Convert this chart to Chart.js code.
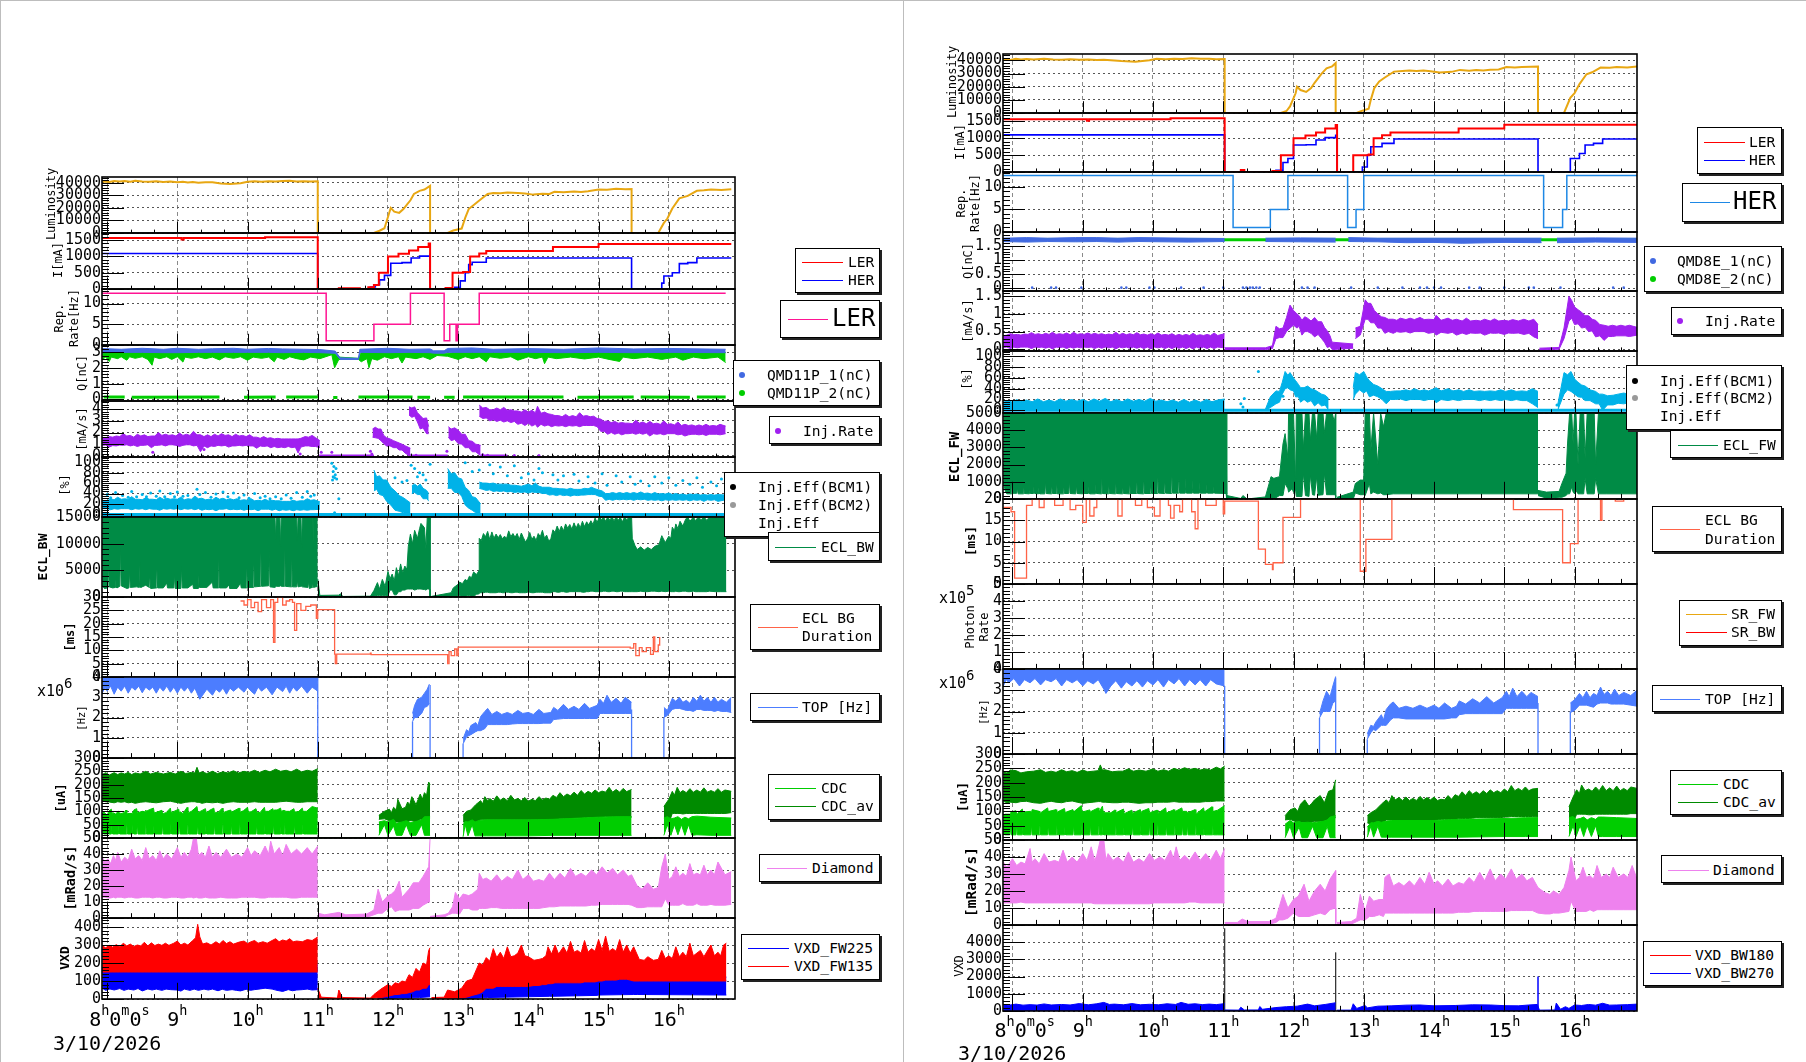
<!DOCTYPE html>
<html>
<head>
<meta charset="utf-8">
<title>3/10/2026</title>
<script src="https://cdn.jsdelivr.net/npm/chart.js@4"></script>
<style>
  html, body { margin: 0; padding: 0; background: #fff; width: 1806px; height: 1062px; overflow: hidden; }
  canvas { position: absolute; }
  .sep { position: absolute; background: #bdbdbd; }
  .legend { position: absolute; background: #fff; border: 1px solid #000; box-shadow: 2px 2px 0 #222; box-sizing: border-box; z-index: 5; }
  .legend span { position: absolute; white-space: pre; font-family: "DejaVu Sans Mono", monospace; font-size: 14.6px; color: #000; transform: translateY(-50%); }
  .legend i { position: absolute; display: block; }
</style>
</head>
<body>
<div class="sep" style="left:0;top:0;width:1px;height:1062px"></div>
<div class="sep" style="left:0;top:0;width:1806px;height:1px"></div>
<div class="sep" style="left:903px;top:0;width:1px;height:1062px"></div>
<script>
// values are hours on x. bands are [hour, low, high]
const hourLabels = [9, 10, 11, 12, 13, 14, 15, 16];
const dateLabel = '3/10/2026';

// ---------- left column (LER) ----------
const lumL = [[7.93,41000],[8.03,40600],[8.1,41400],[8.18,40900],[8.25,41300],[8.33,40800],[8.4,41500],[8.5,41000],[8.6,40700],[8.7,41100],[8.8,40600],[8.9,40900],[9,40400],[9.08,40700],[9.15,40200],[9.22,40500],[9.3,39900],[9.4,40300],[9.5,40400],[9.62,39400],[9.75,38900],[9.9,39600],[10,40700],[10.1,41200],[10.2,40800],[10.3,41200],[10.4,40900],[10.5,41300],[10.6,41500],[10.7,41000],[10.8,41200],[10.9,40900],[11,41100],[11,0],[11.8,0],[11.88,1800],[11.95,3800],[12,12700],[12.04,20000],[12.09,17000],[12.16,16000],[12.22,19000],[12.27,22500],[12.32,26000],[12.37,31000],[12.45,33500],[12.52,34500],[12.6,37500],[12.6,0],[12.85,0],[12.93,2000],[13.05,3500],[13.1,12000],[13.15,19000],[13.27,24500],[13.35,28000],[13.42,31000],[13.5,31800],[13.6,31500],[13.7,32200],[13.85,31800],[13.95,31300],[14.07,30500],[14.2,31200],[14.3,31000],[14.37,32700],[14.5,32300],[14.65,33000],[14.75,32600],[14.85,33200],[15,34500],[15.12,34300],[15.25,35100],[15.38,34700],[15.47,34900],[15.47,0],[15.85,0],[15.93,8000],[15.98,11500],[16.05,19500],[16.15,27500],[16.27,29500],[16.4,33500],[16.5,33900],[16.6,34500],[16.75,34200],[16.89,34800]];
const lerL = [[7.93,1565],[9.06,1520],[9.09,1565],[10.25,1590],[11,0],[11.3,20],[11.6,0],[11.72,50],[11.8,120],[11.87,500],[12,1000],[12.15,1080],[12.3,1180],[12.43,1290],[12.58,1400],[12.6,0],[12.82,30],[12.92,500],[13.07,520],[13.17,1000],[13.3,1090],[13.4,1170],[14.35,1290],[15,1385],[16.89,1385]];
const herL = [[7.93,1090],[11,0],[11.75,60],[11.82,130],[11.88,280],[11.95,420],[12.04,790],[12.2,810],[12.33,950],[12.45,1010],[12.6,1090],[12.6,0],[12.95,50],[13.03,250],[13.1,500],[13.15,750],[13.2,820],[13.4,950],[15.47,0],[15.85,0],[15.9,180],[15.93,400],[16.05,500],[16.15,780],[16.27,810],[16.4,950],[16.89,950]];
const repL = [[7.93,12.5],[11.12,1],[11.8,5],[12.32,12.5],[12.8,1],[12.88,5],[12.97,1],[12.99,5],[13.3,12.5],[16.81,12.5]];
const qBlueL = [[7.93,2.98,3.24],[8.2,3,3.2],[8.5,3,3.26],[8.8,2.98,3.2],[9,2.98,3.26],[9.3,3,3.2],[9.5,3,3.23],[9.8,3,3.26],[10,3,3.2],[10.3,3,3.25],[10.5,2.98,3.22],[10.8,3,3.2],[11.03,2.98,3.18],[11.25,2.94,3.08],[11.32,2.55,2.65],[11.58,2.55,2.62],[11.6,3,3.2],[12,2.98,3.26],[12.3,3,3.2],[12.6,2.98,3.22],[12.65,2.95,3.1],[12.8,2.95,3.1],[12.85,3,3.25],[13.2,3,3.28],[13.5,3,3.2],[14,3,3.24],[14.5,2.98,3.2],[15,3,3.28],[15.5,2.98,3.22],[16,3,3.25],[16.81,2.98,3.2]];
const qGreenL = [[7.93,2.55,3],[7.98,2.7,3],[8.03,2.42,3],[8.06,2.7,3],[8.15,2.6,3],[8.2,2.72,3],[8.28,2.5,3],[8.32,2.72,3.02],[8.4,2.62,3],[8.5,2.72,3],[8.58,2.55,3],[8.64,2.18,3],[8.67,2.7,3],[8.75,2.6,3.02],[8.85,2.72,3],[8.92,2.55,3],[9,2.72,3],[9.08,2.38,3],[9.11,2.7,3],[9.2,2.62,3],[9.3,2.72,3],[9.4,2.6,3.02],[9.5,2.7,3],[9.6,2.52,3],[9.68,2.72,3],[9.8,2.62,3],[9.9,2.72,3],[10,2.5,3.02],[10.08,2.7,3],[10.2,2.62,3],[10.3,2.7,3],[10.38,2.4,3],[10.42,2.7,3],[10.52,2.55,3],[10.6,2.72,3],[10.7,2.6,3],[10.8,2.52,3],[10.9,2.7,3],[11.03,2.6,3],[11.2,2.85,2.95],[11.24,2.02,2.95],[11.3,2.55,2.7],[11.58,2.55,2.62],[11.62,2.4,3],[11.7,2.6,3],[11.73,2.02,3],[11.77,2.6,3],[11.85,2.5,3],[11.95,2.72,3],[12.05,2.6,3],[12.15,2.72,3],[12.2,2.32,3],[12.25,2.7,3],[12.4,2.6,2.98],[12.5,2.72,3],[12.6,2.55,3],[12.7,2.8,2.95],[12.85,2.75,2.95],[13,2.55,3],[13.1,2.72,3],[13.2,2.6,3],[13.3,2.72,3],[13.4,2.4,3],[13.45,2.72,3],[13.6,2.62,3],[13.75,2.72,3],[13.85,2.5,3],[14,2.72,3],[14.1,2.6,3],[14.2,2.7,3],[14.23,2.28,3],[14.28,2.7,3],[14.4,2.6,3],[14.6,2.7,3],[14.8,2.58,3],[15,2.7,3],[15.15,2.55,3],[15.3,2.42,3],[15.35,2.7,3],[15.5,2.6,3],[15.7,2.7,3],[15.9,2.55,3],[16.1,2.7,3],[16.2,2.5,3],[16.35,2.7,3],[16.5,2.6,3],[16.7,2.7,3],[16.81,2.35,3]];
const qLowL = [[7.95,.15],[8.25,.15],[8.26,null],[8.35,.14],[9.6,.15],[9.65,null],[9.95,.14],[10.4,.15],[10.45,null],[10.55,.16],[11,.15],[11.02,null],[11.22,.12],[11.28,.12],[11.3,null],[11.58,.15],[12.35,.15],[12.4,null],[12.42,.14],[12.6,.14],[12.65,null],[12.8,.14],[12.95,.14],[13,null],[13.07,.15],[14.5,.15],[14.55,null],[14.7,.14],[15.5,.15],[15.55,null],[15.6,.15],[16.3,.14],[16.35,null],[16.4,.15],[16.81,.15]];
const rateMainL = [[7.93,.9,1.5],[7.98,.92,1.55],[8.03,.75,1.65],[8.08,.88,1.6],[8.13,.85,1.7],[8.18,.92,1.65],[8.23,.9,1.9],[8.28,.95,1.7],[8.33,.85,1.75],[8.38,.92,1.6],[8.43,.8,1.85],[8.48,.9,1.7],[8.53,.9,1.8],[8.58,.95,1.65],[8.63,.7,1.7],[8.68,.9,1.7],[8.73,.9,2],[8.78,.95,1.75],[8.83,.85,1.85],[8.88,.95,1.75],[8.93,.95,1.8],[8.98,.9,1.7],[9.03,.8,1.95],[9.08,.9,1.75],[9.13,.95,1.85],[9.18,.95,1.75],[9.23,.85,2.1],[9.28,.9,1.8],[9.33,.35,1.8],[9.38,.85,1.65],[9.43,.7,1.8],[9.48,.85,1.65],[9.53,.8,1.85],[9.58,.9,1.7],[9.63,.85,1.9],[9.68,.9,1.75],[9.73,.75,1.8],[9.78,.85,1.65],[9.83,.85,1.85],[9.88,.9,1.7],[9.93,.85,1.75],[9.98,.9,1.65],[10.03,.85,1.8],[10.08,.85,1.6],[10.13,.65,1.6],[10.18,.85,1.5],[10.23,.8,1.65],[10.28,.85,1.5],[10.33,.7,1.55],[10.38,.8,1.45],[10.43,.7,1.5],[10.48,.75,1.45],[10.53,.7,1.45],[10.58,.8,1.45],[10.63,.7,1.45],[10.68,.75,1.45],[10.72,.25,1.45],[10.76,.75,1.5],[10.82,.85,1.65],[10.87,.85,1.6],[10.92,.8,1.75],[10.97,.8,1.55],[11.03,.7,1.3]];
const rateUpL = [[11.78,1.6,2.3],[11.82,1.55,2.45],[11.86,1.5,2.3],[11.9,1.3,2.3],[11.94,1.05,1.75],[11.98,.85,1.55],[12.03,.85,1.45],[12.08,.7,1.3],[12.12,.7,1.2],[12.16,.5,1.1],[12.2,.5,1],[12.25,.2,.85],[12.32,0,.65]];
const rateUp2L = [[12.3,3.5,4.2],[12.34,3.3,4.1],[12.38,3.4,4.2],[12.42,2.9,3.7],[12.46,2.3,3.45],[12.5,2.4,3.2],[12.55,1.9,3.25],[12.58,1.9,2.5]];
const rateUp3L = [[12.86,1.6,2.5],[12.9,1.3,2.3],[12.95,1.4,2.4],[13,1.05,2.2],[13.05,1,1.85],[13.1,.7,1.85],[13.15,.7,1.3],[13.2,.35,1.25],[13.25,.35,1],[13.32,0,.9]];
const rateMain2L = [[13.3,3.4,4.35],[13.35,3.2,4.1],[13.4,3.25,4.15],[13.45,3,3.95],[13.5,3.1,3.95],[13.55,2.95,4.1],[13.6,3.05,3.95],[13.65,2.9,4.15],[13.7,3,3.9],[13.75,2.85,3.95],[13.8,2.95,3.85],[13.85,2.7,3.85],[13.9,2.8,3.75],[13.95,2.6,3.95],[14,2.8,3.75],[14.05,2.55,3.9],[14.1,2.7,3.7],[14.13,2.45,4.25],[14.18,2.7,3.65],[14.23,2.55,3.75],[14.28,2.65,3.6],[14.33,2.5,3.55],[14.38,2.6,3.45],[14.43,2.55,3.45],[14.48,2.6,3.35],[14.53,2.5,3.55],[14.58,2.6,3.35],[14.63,2.55,3.45],[14.68,2.6,3.35],[14.73,2.5,3.7],[14.78,2.6,3.4],[14.83,2.6,3.45],[14.88,2.6,3.35],[14.93,2.6,3.4],[14.98,2.5,3.2],[15.03,2.1,3.15],[15.08,2.1,2.95],[15.13,1.85,3],[15.18,2,2.85],[15.23,1.85,2.95],[15.28,1.95,2.8],[15.33,1.8,2.85],[15.38,1.9,2.8],[15.43,1.9,2.8],[15.48,1.95,2.75],[15.53,1.85,3.05],[15.58,1.95,2.8],[15.63,1.85,2.9],[15.68,1.95,2.75],[15.73,1.7,2.95],[15.78,1.9,2.75],[15.83,1.85,2.8],[15.88,1.9,2.7],[15.93,1.8,3],[15.98,1.9,2.7],[16.03,1.9,2.75],[16.08,1.9,2.65],[16.13,1.8,2.9],[16.18,1.85,2.6],[16.23,1.7,2.7],[16.28,1.8,2.6],[16.33,1.85,2.65],[16.38,1.85,2.55],[16.43,1.8,2.65],[16.48,1.85,2.55],[16.53,1.75,2.7],[16.58,1.85,2.55],[16.63,1.85,2.6],[16.68,1.85,2.55],[16.73,1.8,2.7],[16.81,1.9,2.55]];
const rateZeroL = [[11.02,-.02],[11.8,-.02],[11.8,null],[12.32,-.02],[12.85,-.02],[12.85,null],[13.32,-.02],[13.7,-.02]];
const rateDotsL = [[8.65,.3],[9.38,.55],[10.75,.15],[11.05,.3],[11.2,.3],[11.75,.4],[11.77,.15],[12.3,.1],[12.4,.05],[12.84,.4],[13.35,.1],[13.42,.05],[13.8,.02],[14.15,.02]];
const effMainL = [[7.93,11,27],[8,11,26],[8.05,9,30],[8.1,11,28],[8.15,10,33],[8.2,11,29],[8.25,11,30],[8.3,11,29],[8.35,9,34],[8.4,11,29],[8.45,10,29],[8.5,11,28],[8.55,9,32],[8.6,11,29],[8.65,10,29],[8.7,10,28],[8.75,8,33],[8.8,11,29],[8.85,10,31],[8.9,11,29],[8.95,10,30],[9,11,29],[9.05,9,33],[9.1,11,28],[9.15,10,30],[9.2,11,29],[9.25,9,35],[9.3,11,30],[9.35,8,31],[9.4,10,28],[9.45,9,29],[9.5,10,28],[9.55,7,33],[9.6,10,29],[9.65,10,31],[9.7,11,28],[9.75,9,30],[9.8,10,28],[9.85,9,30],[9.9,10,27],[9.95,8,28],[10,10,27],[10.05,9,30],[10.1,10,26],[10.15,7,27],[10.2,10,26],[10.25,10,29],[10.3,10,26],[10.35,8,27],[10.4,10,26],[10.45,7,26],[10.5,9,25],[10.55,8,25],[10.6,9,25],[10.65,7,27],[10.7,9,25],[10.75,8,26],[10.8,9,26],[10.85,8,30],[10.9,9,27],[10.95,9,28],[11.03,10,24]];
const effUp1L = [[11.8,45,85],[11.84,48,72],[11.88,38,74],[11.93,36,66],[11.98,25,66],[12.04,18,52],[12.1,8,45],[12.16,6,36],[12.22,3,32],[12.32,0,22]];
const effUp2L = [[12.85,50,88],[12.9,50,78],[12.95,42,80],[13,42,70],[13.05,35,68],[13.1,18,52],[13.15,12,46],[13.2,8,34],[13.25,3,32],[13.32,0,20]];
const effUp3L = [[12.34,40,55],[12.38,42,58],[12.42,38,54],[12.46,38,58],[12.5,30,50],[12.55,30,46],[12.58,26,40]];
const effMain2L = [[13.3,50,62],[13.35,48,60],[13.4,46,60],[13.45,47,59],[13.5,44,60],[13.55,45,58],[13.6,44,58],[13.65,45,58],[13.7,43,58],[13.75,44,56],[13.8,42,56],[13.85,43,55],[13.9,42,54],[13.95,43,56],[14,41,58],[14.05,43,55],[14.1,42,60],[14.15,42,54],[14.2,40,52],[14.25,40,52],[14.3,37,52],[14.35,38,50],[14.4,36,50],[14.45,38,49],[14.5,36,49],[14.55,37,48],[14.6,35,50],[14.65,37,48],[14.7,36,48],[14.75,37,48],[14.8,37,50],[14.85,38,49],[14.9,38,52],[14.95,38,49],[15,35,47],[15.05,34,45],[15.1,27,40],[15.15,29,40],[15.2,27,42],[15.25,29,40],[15.3,28,42],[15.35,29,40],[15.4,28,42],[15.45,29,40],[15.5,27,42],[15.55,29,40],[15.6,28,43],[15.65,29,40],[15.7,27,41],[15.75,28,39],[15.8,27,42],[15.85,28,39],[15.9,26,40],[15.95,28,39],[16,27,41],[16.05,28,38],[16.1,27,40],[16.15,28,38],[16.2,27,39],[16.25,28,37],[16.3,26,39],[16.35,28,38],[16.4,27,39],[16.45,28,37],[16.5,25,38],[16.55,28,37],[16.6,27,38],[16.65,28,37],[16.7,25,38],[16.81,28,37]];
const effSparseL = [[8,38],[8.05,32],[8.12,42],[8.22,36],[8.3,33],[8.35,44],[8.42,34],[8.5,38],[8.56,34],[8.62,41],[8.7,35],[8.75,45],[8.82,34],[8.9,40],[8.96,34],[9,43],[9.08,35],[9.15,36],[9.28,48],[9.32,38],[9.4,42],[9.48,33],[9.55,39],[9.65,43],[9.72,34],[9.8,41],[9.88,32],[9.95,37],[10.02,31],[10.1,40],[10.18,32],[10.25,35],[10.32,30],[10.4,34],[10.48,30],[10.55,37],[10.62,31],[10.7,42],[10.78,33],[10.85,44],[10.9,35],[10.95,37],[11.2,98],[11.22,82],[11.24,70],[11.26,88],[11.21,66],[11.25,76],[11.23,92],[11.22,72],[11.27,68],[11.24,3],[11.3,30],[12.33,94],[12.38,88],[12.42,72],[12.45,80],[12.5,76],[12.54,66],[12.6,96],[12.1,70],[12.2,62],[12.27,65],[13.1,99],[13.2,82],[13.3,85],[13.45,95],[13.5,78],[13.6,91],[13.7,74],[13.8,93],[13.9,70],[14,78],[14.08,66],[14.15,88],[14.2,80],[14.35,76],[14.42,66],[14.5,74],[14.65,77],[14.72,64],[14.85,72],[14.95,60],[15.05,78],[15.12,56],[15.25,74],[15.33,62],[15.45,72],[15.52,58],[15.6,64],[15.72,55],[15.8,72],[15.9,60],[16,70],[16.1,56],[16.2,65],[16.3,58],[16.4,70],[16.48,52],[16.6,62],[16.68,55],[16.75,68]];
const effZeroL = [[7.93,0],[16.85,0]];
const eclBwAL = [[7.93,2200,15000],[7.96,1600,15000],[8.01,1700,15000],[8.02,6400,15000],[8.03,1900,15000],[8.08,1700,15000],[8.12,1800,15000],[8.13,4000,15000],[8.14,1700,15000],[8.18,2000,15000],[8.19,9800,15000],[8.2,2100,15000],[8.28,1600,15000],[8.31,1700,15000],[8.32,5000,15000],[8.33,1800,15000],[8.42,1900,15000],[8.46,1800,15000],[8.47,6800,15000],[8.48,1800,15000],[8.55,2200,15000],[8.6,1800,15000],[8.61,3600,15000],[8.62,1600,15000],[8.7,1700,15000],[8.71,5200,15000],[8.72,1700,15000],[8.8,1700,15000],[8.85,2600,15000],[8.86,1700,15000],[8.95,1700,15000],[8.96,4300,15000],[8.97,1600,15000],[9.05,1600,15000],[9.06,5800,15000],[9.07,1700,15000],[9.15,1700,15000],[9.22,2400,15000],[9.23,1600,15000],[9.3,1600,15000],[9.31,4500,15000],[9.32,1800,15000],[9.42,1800,15000],[9.5,2800,15000],[9.51,1700,15000],[9.58,1700,15000],[9.59,7200,15000],[9.6,1700,15000],[9.7,1700,15000],[9.74,2300,15000],[9.75,1600,15000],[9.85,1600,15000],[9.9,2600,15000],[9.91,1700,15000],[9.98,1700,15000],[9.99,5400,15000],[10,1800,15000],[10.08,1800,15000],[10.09,6200,15000],[10.1,1900,15000],[10.18,2000,15000],[10.19,8400,14800],[10.2,2000,15000],[10.3,2100,15000],[10.31,8800,15000],[10.32,1900,15000],[10.39,1800,15000],[10.4,1900,10800],[10.41,2000,15000],[10.46,2000,15000],[10.47,2100,9400],[10.48,2000,15000],[10.52,2000,15000],[10.53,9000,15000],[10.54,2000,15000],[10.62,1900,15000],[10.63,7200,15000],[10.64,1900,15000],[10.7,1900,15000],[10.71,3200,10400],[10.72,1900,15000],[10.76,2000,15000],[10.77,2000,9200],[10.78,1900,15000],[10.86,1800,15000],[10.87,3000,15000],[10.88,1600,15000],[10.92,1800,15000],[10.93,2400,8500],[10.94,1800,15000],[11,2000,15000]];
const eclBwBL = [[11,0,3400],[11.03,0,300],[11.3,0,350],[11.32,0,600],[11.36,0,100],[11.75,0,150],[11.8,200,1200],[11.85,300,2700],[11.88,300,1500],[11.92,300,3300],[11.96,300,2000],[12,300,4800],[12.03,1300,3400],[12.06,1300,4300],[12.09,400,3000],[12.12,400,5500],[12.15,1000,4000],[12.18,1000,6200],[12.21,1300,4500],[12.24,1300,5800],[12.27,1500,5200],[12.29,1500,9500],[12.32,1500,11800],[12.35,1500,10000],[12.38,1300,12500],[12.42,1500,11000],[12.45,1500,12800],[12.47,1500,13800],[12.52,1400,13000],[12.54,1300,9000],[12.56,1500,15000],[12.6,1500,15000],[12.6,0,200]];
const eclBwCL = [[12.62,0,120],[12.9,0,800],[12.93,0,1700],[12.96,0,2000],[13,300,2400],[13.02,300,2800],[13.06,100,2500],[13.1,100,3300],[13.13,300,3000],[13.16,300,3900],[13.19,100,3600],[13.22,100,4700],[13.26,500,4200],[13.3,600,5000],[13.3,800,11000],[13.33,800,10600],[13.36,800,11900],[13.39,900,11300],[13.42,900,12300],[13.45,800,10800],[13.48,800,12200],[13.51,800,11000],[13.54,800,11800],[13.57,900,11100],[13.6,900,11700],[13.63,800,10900],[13.66,800,11400],[13.69,900,11000],[13.72,900,12400],[13.75,800,11300],[13.78,800,11900],[13.81,900,11200],[13.84,900,11900],[13.87,800,10800],[13.9,800,12000],[13.93,800,11100],[13.96,800,10300],[13.99,900,11000],[14.02,900,12100],[14.05,800,10800],[14.08,800,11400],[14.11,900,10600],[14.14,900,11900],[14.17,900,11300],[14.2,900,12500],[14.23,800,11000],[14.26,800,11600],[14.29,800,10500],[14.32,800,10900],[14.35,1000,12600],[14.38,1000,12100],[14.41,900,13300],[14.44,900,12300],[14.47,1000,13300],[14.5,1000,12400],[14.53,900,13700],[14.56,900,12900],[14.59,1000,13600],[14.62,1000,12700],[14.65,1000,13900],[14.68,1000,12900],[14.71,1000,13800],[14.74,1000,13000],[14.77,900,14200],[14.8,900,13200],[14.83,1000,14100],[14.86,1000,13500],[14.89,1100,14300],[14.92,1100,13600],[14.95,1000,14800],[14.98,1000,14000],[15.01,1000,15000],[15.04,1000,14500],[15.07,1100,15000],[15.1,1100,14200],[15.13,1000,15000],[15.16,1000,14400],[15.19,1100,15000],[15.22,1100,14300],[15.25,1000,15000],[15.28,1000,14400],[15.31,1100,14900],[15.34,1100,14100],[15.37,1000,15000],[15.4,1000,14500],[15.44,1000,15000],[15.47,1000,15000],[15.48,1000,11000],[15.52,1000,9600],[15.55,1000,8900],[15.6,1100,9400],[15.65,1000,8800],[15.7,1000,9300],[15.75,1100,8900],[15.8,1100,9500],[15.86,1000,9800],[15.9,1100,11500],[15.95,1000,10200],[16,1100,11400],[16.03,1000,11000],[16.05,1000,13100],[16.08,1000,12400],[16.1,1100,13700],[16.13,1000,12800],[16.16,1000,14200],[16.2,1100,13300],[16.24,1100,14600],[16.27,1000,15000],[16.3,1000,14200],[16.35,1100,15000],[16.38,1000,14300],[16.42,1000,15000],[16.46,1000,14500],[16.5,1000,15000],[16.54,1000,14400],[16.58,1100,15000],[16.66,1000,14800],[16.74,1000,15000],[16.82,1000,15000]];
const ecldurL = [[9.9,28.5],[9.95,27],[10,29],[10.05,26],[10.1,28],[10.15,24.5],[10.2,29],[10.27,26],[10.33,29],[10.37,13],[10.39,28],[10.43,30],[10.5,27],[10.55,28.5],[10.6,29],[10.64,28],[10.67,17.5],[10.7,27.5],[10.76,25],[10.83,26.5],[10.9,27],[10.98,22],[11,25.3],[11.24,8.6],[11.25,5],[11.27,8.6],[11.75,8.9],[11.76,8.4],[12.85,5],[12.87,9.5],[12.9,8],[12.95,10.5],[12.98,8],[13,11.2],[15.45,10.8],[15.5,12.5],[15.53,8],[15.58,11],[15.62,9.5],[15.68,11],[15.74,8.5],[15.78,15],[15.8,9.5],[15.85,12],[15.87,15],[15.87,15]];
const topAL = [[7.93,3.2,4],[7.97,3.5,4],[8,3.3,4],[8.05,3.55,4],[8.1,3.15,4],[8.15,3.5,4],[8.2,3.3,4],[8.25,3.55,4],[8.3,3.2,4],[8.35,3.5,4],[8.4,3.35,4],[8.45,3.55,4],[8.5,3.22,4],[8.55,3.5,4],[8.6,3.35,4],[8.65,3.5,4],[8.7,3.2,4],[8.75,3.5,4],[8.8,3.3,4],[8.85,3.55,4],[8.9,3.25,4],[8.95,3.5,4],[9,3.2,4],[9.05,3.5,4],[9.1,3.3,4],[9.15,3.5,4],[9.2,3.2,4],[9.25,3.45,4],[9.32,2.9,4],[9.36,3.1,4],[9.42,3.4,4],[9.5,3.1,4],[9.55,3.4,4],[9.6,3.25,4],[9.65,3.45,4],[9.7,3.15,4],[9.75,3.45,4],[9.8,3.3,4],[9.87,3.5,4],[9.95,3.25,4],[10,3.5,4],[10.05,3.3,4],[10.1,3.15,4],[10.15,3.5,4],[10.2,3.3,4],[10.27,3.5,4],[10.35,3.12,4],[10.42,3.5,4],[10.5,3.28,4],[10.55,3.55,4],[10.6,3.2,4],[10.65,3.5,4],[10.7,3.3,4],[10.77,3.55,4],[10.85,3.2,4],[10.92,3.5,4],[11,3.3,4]];
const topBL = [[12.35,1.8,2.2],[12.38,2,2.6],[12.42,2,2.9],[12.48,2.2,3.0],[12.52,2.5,3.2],[12.56,2.55,3.4],[12.59,2.7,3.65]];
const topCL = [[13.07,.7,.95],[13.12,1.05,1.4],[13.15,1.1,1.3],[13.18,1.15,1.6],[13.25,1.3,1.75],[13.28,1.35,1.6],[13.32,1.35,2.05],[13.38,1.45,2.3],[13.42,1.65,2.45],[13.48,1.65,2.15],[13.55,1.65,2.3],[13.62,1.65,2.15],[13.7,1.65,2.25],[13.77,1.68,2.15],[13.85,1.7,2.35],[13.92,1.7,2.2],[14,1.7,2.25],[14.07,1.7,2.15],[14.15,1.7,2.4],[14.22,1.72,2.2],[14.32,1.72,2.25],[14.36,1.9,2.5],[14.42,1.92,2.35],[14.5,1.95,2.65],[14.57,1.95,2.4],[14.65,1.95,2.55],[14.72,1.95,2.4],[14.8,1.95,2.7],[14.87,1.95,2.45],[14.98,1.95,2.6],[15.02,2.2,2.9],[15.07,2.2,2.7],[15.12,2.2,3.1],[15.18,2.2,2.75],[15.25,2.2,2.95],[15.32,2.2,2.7],[15.38,2.2,3],[15.47,2.2,2.75]];
const topDL = [[15.93,2,2.5],[15.98,2.1,2.35],[16.05,2.4,2.95],[16.1,2.45,2.8],[16.15,2.45,3],[16.2,2.4,2.75],[16.25,2.35,2.85],[16.3,2.35,2.7],[16.35,2.3,3],[16.4,2.4,2.8],[16.45,2.4,3.1],[16.5,2.35,2.8],[16.55,2.35,3],[16.6,2.35,2.75],[16.65,2.3,3],[16.7,2.35,2.75],[16.75,2.3,2.9],[16.82,2.3,2.75],[16.89,2.25,3]];
const topZeroL = [[11,4],[11,0],[12.35,0],[12.35,1.8],[12.35,null],[12.6,3.6],[12.6,0],[13.07,0],[13.07,.7],[13.07,null],[15.47,2.4],[15.47,0],[15.93,0],[15.93,2]];
const cdcAvAL = [[7.93,140,238],[7.98,136,245],[8.03,135,236],[8.1,132,245],[8.15,136,238],[8.2,134,244],[8.25,136,240],[8.3,132,246],[8.35,134,238],[8.4,130,244],[8.47,134,240],[8.55,136,250],[8.62,134,240],[8.7,132,246],[8.8,136,240],[8.9,138,246],[8.97,134,240],[9.05,130,250],[9.12,134,242],[9.2,136,246],[9.25,136,244],[9.28,134,265],[9.31,134,244],[9.35,130,248],[9.42,134,242],[9.5,132,250],[9.57,134,242],[9.65,130,248],[9.72,134,244],[9.8,136,252],[9.87,134,244],[9.95,134,250],[10.02,134,246],[10.1,136,254],[10.17,134,246],[10.25,134,254],[10.32,134,248],[10.4,134,258],[10.47,136,250],[10.55,138,254],[10.62,136,248],[10.7,134,258],[10.77,134,248],[10.85,136,254],[10.92,136,250],[11,136,260]];
const cdcAL = [[7.93,15,92],[7.94,55,90],[7.95,15,98],[8,15,85],[8.01,55,90],[8.02,15,100],[8.06,15,108],[8.07,55,92],[8.08,15,95],[8.12,15,90],[8.16,15,100],[8.17,55,95],[8.18,15,90],[8.24,15,95],[8.27,15,105],[8.28,55,95],[8.29,15,92],[8.36,15,92],[8.37,55,100],[8.38,15,105],[8.42,15,110],[8.43,55,96],[8.44,15,95],[8.5,15,100],[8.54,15,98],[8.55,55,105],[8.56,15,100],[8.6,15,106],[8.66,15,112],[8.67,55,96],[8.68,15,95],[8.72,15,98],[8.78,15,104],[8.79,55,95],[8.8,15,92],[8.84,15,95],[8.9,15,112],[8.91,55,98],[8.92,15,96],[9.02,15,108],[9.03,55,92],[9.04,15,98],[9.08,15,92],[9.14,15,115],[9.15,55,98],[9.16,15,95],[9.2,15,100],[9.28,15,118],[9.29,55,100],[9.3,15,96],[9.4,15,110],[9.41,55,98],[9.42,15,95],[9.46,15,104],[9.52,15,112],[9.53,55,95],[9.54,15,96],[9.58,15,96],[9.64,15,112],[9.65,55,100],[9.66,15,96],[9.7,15,100],[9.76,15,105],[9.77,55,98],[9.78,15,98],[9.88,15,112],[9.89,55,100],[9.9,15,98],[9.94,15,102],[10,15,115],[10.01,55,100],[10.02,15,96],[10.06,15,100],[10.12,15,110],[10.13,55,100],[10.14,15,96],[10.18,15,96],[10.24,15,115],[10.25,55,100],[10.26,15,100],[10.3,15,100],[10.36,15,110],[10.37,55,100],[10.38,15,105],[10.42,15,105],[10.47,15,112],[10.48,55,100],[10.49,15,100],[10.52,15,104],[10.53,55,100],[10.54,15,100],[10.6,15,100],[10.66,15,110],[10.67,55,98],[10.68,15,98],[10.72,15,98],[10.78,15,112],[10.79,55,100],[10.8,15,100],[10.84,15,100],[10.92,15,118],[11,15,112]];
const cdcAvBL = [[11.87,70,85],[11.95,72,100],[12.02,65,108],[12.05,62,95],[12.08,60,115],[12.12,60,105],[12.14,60,145],[12.2,58,110],[12.25,60,115],[12.28,60,135],[12.31,65,125],[12.34,65,155],[12.4,60,125],[12.43,65,145],[12.46,70,165],[12.49,70,145],[12.52,70,170],[12.55,72,160],[12.58,75,210],[12.6,75,200]];
const cdcBL = [[11.87,10,60],[11.95,50,65],[12,10,60],[12.08,45,70],[12.12,10,55],[12.2,10,60],[12.26,50,65],[12.32,10,58],[12.4,10,62],[12.48,50,68],[12.52,10,80],[12.6,10,80]];
const cdcAvCL = [[13.07,60,85],[13.12,60,100],[13.18,50,105],[13.25,50,125],[13.32,68,140],[13.35,68,128],[13.38,68,155],[13.42,68,140],[13.45,68,148],[13.5,68,138],[13.55,68,158],[13.6,68,142],[13.65,68,150],[13.7,68,140],[13.75,68,160],[13.8,68,143],[13.85,68,148],[13.9,68,140],[13.95,68,152],[14,68,138],[14.05,68,145],[14.1,68,140],[14.15,70,155],[14.2,70,143],[14.25,70,150],[14.3,70,145],[14.35,70,160],[14.4,70,152],[14.45,72,170],[14.5,72,155],[14.55,72,165],[14.6,74,158],[14.65,75,172],[14.7,75,160],[14.75,75,178],[14.8,76,165],[14.85,78,175],[14.9,78,168],[14.95,78,180],[15,78,170],[15.05,78,176],[15.1,80,172],[15.15,80,190],[15.2,80,172],[15.25,80,182],[15.3,80,172],[15.35,80,186],[15.4,80,174],[15.47,78,182]];
const cdcCL = [[13.07,5,50],[13.1,50,62],[13.14,8,60],[13.2,50,68],[13.24,8,60],[13.3,8,66],[13.4,8,68],[14,8,68],[14.35,10,70],[15,10,78],[15.3,10,80],[15.47,10,80]];
const cdcAvDL = [[15.93,55,118],[16,55,145],[16.05,92,175],[16.08,92,160],[16.12,92,190],[16.16,92,170],[16.2,90,178],[16.25,92,170],[16.3,92,185],[16.35,92,172],[16.4,92,180],[16.45,92,172],[16.5,92,188],[16.55,92,172],[16.6,92,178],[16.65,92,172],[16.7,92,185],[16.75,92,172],[16.8,92,180],[16.89,95,175]];
const cdcDL = [[15.93,10,75],[15.98,50,80],[16.03,10,72],[16.08,50,75],[16.13,12,80],[16.18,50,70],[16.23,10,78],[16.28,50,72],[16.33,10,80],[16.4,12,82],[16.6,10,78],[16.89,10,75]];
const cdcZeroL = [[11,0],[11.87,0],[11.87,null],[12.6,0],[13.07,0],[13.07,null],[15.47,0],[15.93,0]];
const diaAL = [[7.93,13,38],[7.97,13,35],[8.01,12.5,37],[8.05,12.5,34],[8.09,13,39],[8.12,12.5,36],[8.15,13,41],[8.2,13,35],[8.25,12.5,38],[8.3,13,36],[8.35,13,43],[8.4,12.5,37],[8.45,12.5,39],[8.5,13,36],[8.55,13,44],[8.6,13,37],[8.65,12.5,39],[8.7,13,36],[8.75,13,42],[8.8,12.5,37],[8.85,12.5,40],[8.92,13,37],[9,13,44],[9.05,12.5,38],[9.1,12.5,41],[9.15,13,38],[9.2,13,43],[9.23,12.5,50],[9.27,13,50],[9.3,12.5,39],[9.35,12.5,41],[9.4,13,38],[9.45,12.5,45],[9.5,12.5,38],[9.55,12.5,41],[9.62,13,38],[9.7,12.5,43],[9.77,12.5,38],[9.85,12.5,40],[9.92,13,38],[10,13,44],[10.05,13,39],[10.1,13,42],[10.18,12.5,39],[10.25,12.5,45],[10.3,13,40],[10.33,13,48],[10.38,13,40],[10.45,13,44],[10.5,13,39],[10.55,13,46],[10.62,12.5,40],[10.7,12.5,43],[10.77,13,40],[10.85,13,44],[10.92,13,40],[11,13,45]];
const diaBL = [[11,0,3],[11.1,0,2],[11.3,.5,3.5],[11.4,.5,2],[11.7,.5,2.5],[11.8,2,5],[11.86,3,18],[11.92,3,10],[12,6,14],[12.05,7,15],[12.1,4,17],[12.16,5,23],[12.2,5,13],[12.3,5,18],[12.36,6,22],[12.44,6,22],[12.5,8,26],[12.58,10,32],[12.6,10,50]];
const diaCL = [[12.6,0,1],[12.8,.5,2],[12.86,2,3],[12.92,3,7],[12.96,3,16],[13.02,2.5,12],[13.07,6,15],[13.15,6,14],[13.2,5,15],[13.28,5,18],[13.3,6,28],[13.35,6,24],[13.4,6,25],[13.47,6.5,23],[13.55,6.5,27],[13.62,6,23],[13.7,6,26],[13.77,6,24],[13.85,6,30],[13.92,6,24],[14,6,27],[14.07,6,23],[14.15,6,24],[14.22,6.5,23],[14.3,7,28],[14.37,7,24],[14.45,7.5,28],[14.52,7.5,25],[14.6,7.5,31],[14.67,7.5,26],[14.75,7.5,28],[14.82,7.5,26],[14.9,8,30],[14.97,8,27],[15.05,8.5,32],[15.12,8.5,28],[15.2,8.5,31],[15.27,8.5,27],[15.35,8.5,30],[15.42,8.5,26],[15.47,8,27],[15.55,6.5,20],[15.62,6.5,18],[15.7,7,22],[15.78,7,18],[15.85,7,19],[15.9,7,32],[15.95,12,40],[16,8,24],[16.05,8,26],[16.1,8,32],[16.15,8,26],[16.2,9,28],[16.25,8,26],[16.3,8,34],[16.35,8,27],[16.4,9,28],[16.45,8,27],[16.5,8,33],[16.55,8,27],[16.6,8.5,30],[16.65,8,27],[16.7,8,35],[16.8,8,27],[16.89,8.5,29]];
const vxdRedAL = [[7.93,150,295],[7.98,150,285],[8.03,150,298],[8.08,150,288],[8.13,150,302],[8.18,150,290],[8.23,150,310],[8.28,150,295],[8.33,150,305],[8.38,150,292],[8.43,150,300],[8.48,150,295],[8.53,150,315],[8.58,150,295],[8.63,150,312],[8.68,150,297],[8.73,150,305],[8.78,150,298],[8.83,150,310],[8.88,150,298],[8.95,150,310],[9,150,322],[9.05,150,300],[9.1,150,310],[9.15,150,300],[9.22,150,325],[9.26,150,340],[9.29,150,415],[9.32,150,345],[9.36,150,305],[9.42,150,312],[9.48,150,300],[9.55,150,318],[9.6,150,305],[9.65,150,325],[9.7,150,308],[9.75,150,318],[9.8,150,305],[9.88,150,316],[9.95,150,322],[10,150,308],[10.05,150,318],[10.1,150,325],[10.15,150,310],[10.22,150,318],[10.28,150,310],[10.35,150,325],[10.4,150,335],[10.45,150,318],[10.5,150,328],[10.55,150,322],[10.6,150,335],[10.65,150,318],[10.7,150,322],[10.78,150,318],[10.85,150,330],[10.92,150,325],[11,150,345]];
const vxdBlueAL = [[7.93,60,172],[7.98,48,172],[8.04,56,172],[8.1,50,172],[8.18,58,172],[8.24,48,172],[8.3,55,174],[8.38,50,174],[8.44,58,174],[8.5,45,174],[8.58,56,174],[8.64,50,172],[8.7,55,172],[8.78,48,174],[8.84,55,172],[8.9,52,173],[9,50,174],[9.05,44,168],[9.1,55,174],[9.18,48,174],[9.24,55,174],[9.3,48,174],[9.38,55,174],[9.44,50,174],[9.5,55,174],[9.58,46,174],[9.64,54,174],[9.7,48,174],[9.78,52,174],[9.84,48,174],[9.9,45,174],[9.98,54,174],[10.04,48,174],[10.1,52,174],[10.18,56,180],[10.25,60,184],[10.35,55,184],[10.42,48,184],[10.5,42,185],[10.58,52,185],[10.64,46,185],[10.7,50,184],[10.78,52,186],[10.85,55,184],[10.92,50,186],[11,52,190]];
const vxdRedBL = [[11,0,60],[11.05,0,10],[11.28,0,5],[11.3,0,50],[11.35,0,8],[11.75,0,5],[11.8,5,25],[11.9,8,55],[12,15,80],[12.05,20,70],[12.1,25,90],[12.15,25,85],[12.2,30,100],[12.25,30,95],[12.3,35,135],[12.35,40,120],[12.4,50,170],[12.45,50,150],[12.5,60,200],[12.55,60,190],[12.58,80,270],[12.6,80,285]];
const vxdBlueBL = [[11.85,0,8],[12,2,35],[12.15,5,55],[12.3,5,60],[12.45,8,90],[12.6,12,120]];
const vxdRedCL = [[12.62,0,8],[12.8,0,10],[12.85,2,50],[12.95,5,40],[13.05,5,60],[13.12,10,100],[13.2,20,110],[13.3,30,200],[13.35,40,190],[13.4,60,230],[13.45,60,210],[13.5,60,280],[13.55,70,230],[13.6,70,260],[13.65,70,225],[13.7,70,290],[13.75,70,235],[13.8,70,240],[13.85,70,255],[13.9,70,300],[13.95,70,240],[14,70,235],[14.08,75,215],[14.15,75,220],[14.2,80,225],[14.25,80,240],[14.28,85,290],[14.33,85,250],[14.38,90,300],[14.43,90,250],[14.5,90,290],[14.55,90,255],[14.6,90,320],[14.65,90,260],[14.7,90,270],[14.75,90,255],[14.8,95,325],[14.85,95,260],[14.9,95,280],[14.95,95,265],[15,100,330],[15.05,100,270],[15.1,105,350],[15.15,105,265],[15.2,105,280],[15.25,105,265],[15.3,110,330],[15.35,110,260],[15.4,110,300],[15.45,105,255],[15.5,100,290],[15.58,100,220],[15.65,100,215],[15.7,100,235],[15.78,100,215],[15.85,100,220],[15.9,100,270],[15.95,100,225],[16,100,240],[16.05,100,225],[16.1,100,290],[16.15,100,235],[16.2,100,260],[16.25,100,235],[16.3,100,310],[16.35,100,240],[16.45,100,270],[16.5,100,235],[16.6,100,300],[16.65,100,240],[16.7,100,260],[16.74,100,240],[16.78,100,300],[16.82,100,310]];
const vxdBlueCL = [[12.85,0,5],[13,0,15],[13.1,2,22],[13.2,3,40],[13.3,5,65],[13.42,8,80],[14.3,15,83],[14.35,15,95],[14.98,20,97],[15,22,118],[15.5,25,118],[15.55,25,122],[16.82,22,122]];

// ---------- right column (HER) ----------
const lumR = [[7.87,40800],[7.97,40400],[8.05,41300],[8.12,40800],[8.2,41100],[8.3,40700],[8.45,41300],[8.58,40800],[8.7,40600],[8.82,40900],[8.95,40500],[9.08,40700],[9.2,40300],[9.3,40500],[9.4,40200],[9.55,39500],[9.75,39000],[9.95,40100],[10.05,41200],[10.18,41000],[10.3,41300],[10.42,41100],[10.55,41700],[10.68,41200],[10.8,41200],[10.9,40900],[11.02,41100],[11.02,0],[11.82,0],[11.9,1500],[11.95,5000],[12.03,15000],[12.05,20000],[12.1,17500],[12.18,16000],[12.25,19000],[12.3,23000],[12.4,30000],[12.47,34000],[12.55,35500],[12.6,38000],[12.6,0],[12.9,0],[12.95,1200],[13.07,3300],[13.1,10000],[13.15,19000],[13.22,24000],[13.3,27000],[13.43,31500],[13.55,32000],[13.65,32400],[13.75,31900],[13.85,32300],[13.95,31800],[14.08,30800],[14.25,31300],[14.37,32800],[14.5,32200],[14.6,32700],[14.7,32300],[14.8,33000],[14.92,33100],[15.03,35000],[15.15,34700],[15.25,35000],[15.38,35200],[15.48,35300],[15.48,0],[15.85,0],[15.94,11500],[16,15000],[16.07,22000],[16.17,29500],[16.25,31000],[16.37,34600],[16.5,34400],[16.6,35000],[16.75,34700],[16.89,35400]];
const lerR = [[7.87,1565],[9.06,1520],[9.09,1565],[10.25,1595],[11.02,0],[11.25,60],[11.3,0],[11.7,30],[11.82,500],[12,1000],[12.17,1080],[12.32,1170],[12.45,1290],[12.6,1395],[12.62,0],[12.85,500],[13.07,520],[13.14,1000],[13.26,1090],[13.38,1170],[14.35,1290],[15,1400],[16.89,1400]];
const herR = [[7.87,1100],[11.02,0],[11.75,50],[11.85,280],[11.92,400],[12,800],[12.18,810],[12.32,950],[12.45,1020],[12.6,1090],[12.62,0],[12.9,0],[12.98,150],[13.05,500],[13.1,750],[13.26,850],[13.43,980],[15.48,0],[15.85,0],[15.94,400],[16.07,550],[16.15,800],[16.27,850],[16.4,980],[16.89,980]];
const repR = [[7.87,12.5],[11.14,1],[11.67,5],[11.92,12.5],[12.77,1],[12.89,5],[13,12.5],[15.56,1],[15.83,5],[15.89,12.5],[16.89,12.5]];
const qBlueR = [[7.87,1.66,1.78],[8.2,1.64,1.8],[8.5,1.66,1.78],[8.9,1.65,1.8],[9.2,1.66,1.8],[9.5,1.64,1.78],[9.8,1.66,1.8],[10.5,1.64,1.78],[11.02,1.66,1.77]];
const qBlue2R = [[11.6,1.66,1.78],[12.1,1.65,1.79],[12.6,1.64,1.78]];
const qBlue3R = [[12.78,1.66,1.8],[13.2,1.65,1.78],[13.6,1.62,1.78],[14,1.63,1.78],[14.4,1.6,1.78],[15,1.63,1.78],[15.53,1.62,1.78]];
const qBlue4R = [[15.75,1.62,1.78],[16.3,1.64,1.79],[16.89,1.63,1.78]];
const qGreenR = [[7.87,1.72],[16.89,1.72]];
const qDotsR = [[8.28,.02],[8.55,.02],[8.62,.02],[8.98,.02],[9.55,.02],[9.62,.02],[9.95,.02],[10.02,.02],[10.4,.02],[10.72,.02],[11,.02],[11.28,.02],[11.33,.02],[11.38,.02],[11.42,.02],[11.47,.02],[11.52,.02],[12.12,.02],[12.2,.02],[12.3,.02],[12.82,.02],[13.2,.02],[13.55,.02],[13.8,.02],[13.9,.02],[14,.02],[14.1,.02],[14.5,.02],[14.65,.02],[15,.02],[15.35,.02],[15.42,.02],[15.8,.02],[16.55,.02],[16.7,.02]];
const rateAR = [[7.87,.05,.38],[7.92,.06,.4],[7.97,.02,.44],[8.02,.06,.41],[8.07,.04,.42],[8.12,.06,.4],[8.17,.06,.43],[8.22,.06,.42],[8.27,.02,.47],[8.32,.06,.42],[8.37,.05,.44],[8.42,.06,.41],[8.47,.03,.45],[8.52,.06,.42],[8.57,.01,.48],[8.62,.06,.42],[8.67,.05,.44],[8.72,.06,.42],[8.77,.02,.46],[8.82,.06,.41],[8.87,.03,.48],[8.92,.06,.42],[8.97,.04,.44],[9.02,.06,.42],[9.07,.05,.46],[9.12,.06,.42],[9.17,.02,.45],[9.22,.06,.42],[9.27,.03,.44],[9.32,.06,.41],[9.37,.04,.43],[9.42,.06,.41],[9.47,.01,.48],[9.52,.06,.41],[9.57,.04,.45],[9.62,.06,.41],[9.67,.03,.44],[9.72,.06,.41],[9.77,.03,.47],[9.82,.06,.41],[9.87,.02,.43],[9.92,.06,.4],[9.97,.01,.44],[10.02,.06,.4],[10.07,.04,.46],[10.12,.06,.4],[10.17,.02,.42],[10.22,.06,.4],[10.27,.02,.44],[10.32,.06,.39],[10.37,.03,.42],[10.42,.06,.39],[10.47,.02,.42],[10.52,.06,.39],[10.57,.01,.45],[10.62,.06,.39],[10.67,.03,.41],[10.72,.06,.39],[10.77,.02,.42],[10.82,.06,.39],[10.87,.02,.46],[10.92,.06,.39],[11.02,.04,.44]];
const rateBR = [[11.02,-.01,.04],[11.6,-.01,.04],[11.7,.02,.1],[11.75,.3,.65],[11.8,.33,.58],[11.85,.33,.6],[11.9,.5,.9],[11.95,.6,1.25],[12,.68,1.1],[12.05,.6,1],[12.08,.65,.95],[12.12,.4,.82],[12.16,.5,.92],[12.2,.5,.88],[12.25,.45,.8],[12.3,.35,.9],[12.35,.42,.78],[12.4,.3,.78],[12.44,.2,.62],[12.48,.05,.52],[12.52,.08,.38],[12.55,-.01,.2],[12.85,.03,.15]];
const rateCR = [[12.88,.3,.6],[12.95,.4,.65],[13.02,.85,1.4],[13.06,.85,1.3],[13.1,.75,1.3],[13.15,.75,1.1],[13.2,.6,1],[13.25,.6,.92],[13.3,.45,.9],[13.35,.5,.85],[13.42,.45,.85],[13.47,.5,.82],[13.52,.48,.88],[13.6,.5,.84],[13.66,.46,.88],[13.72,.5,.84],[13.8,.5,.9],[13.86,.5,.84],[13.92,.45,.85],[14,.48,.84],[14.03,.4,.96],[14.1,.48,.82],[14.2,.45,.88],[14.26,.48,.82],[14.32,.4,.85],[14.4,.46,.8],[14.46,.42,.88],[14.52,.46,.8],[14.6,.45,.82],[14.66,.46,.8],[14.72,.4,.85],[14.8,.46,.8],[14.86,.45,.86],[14.92,.46,.8],[15,.42,.82],[15.06,.46,.8],[15.12,.45,.84],[15.2,.46,.8],[15.28,.42,.85],[15.35,.45,.8],[15.42,.35,.85],[15.48,.3,.7]];
const rateDR = [[15.5,-.01,.03],[15.78,0,.05],[15.85,.3,.6],[15.92,.8,1.5],[15.96,.88,1.38],[16,.7,1.2],[16.05,.72,1.12],[16.1,.6,1.05],[16.15,.62,.95],[16.2,.5,.95],[16.25,.52,.85],[16.3,.35,.82],[16.36,.38,.7],[16.42,.25,.68],[16.48,.36,.65],[16.54,.36,.68],[16.6,.38,.65],[16.66,.38,.68],[16.72,.38,.65],[16.78,.36,.68],[16.89,.4,.62]];
const effAR = [[7.87,0,15],[7.93,0,18],[8,0,15],[8.06,0,20],[8.12,0,16],[8.2,0,19],[8.28,0,16],[8.36,0,21],[8.44,0,16],[8.52,0,19],[8.6,0,16],[8.68,0,21],[8.76,0,17],[8.84,0,20],[8.92,0,17],[9,0,20],[9.08,0,16],[9.16,0,21],[9.24,0,17],[9.32,0,22],[9.4,0,16],[9.48,0,20],[9.56,0,16],[9.64,0,21],[9.72,0,17],[9.8,0,20],[9.88,0,17],[9.96,0,22],[10.04,0,17],[10.12,0,19],[10.2,0,16],[10.28,0,19],[10.36,0,15],[10.44,0,20],[10.52,0,15],[10.6,0,19],[10.68,0,15],[10.76,0,20],[10.84,0,16],[10.92,0,19],[11.02,0,21]];
const effBR = [[11.6,0,2],[11.67,5,25],[11.75,12,36],[11.8,15,35],[11.84,30,52],[11.88,40,72],[11.92,42,65],[11.95,38,70],[12,36,60],[12.03,25,55],[12.07,25,48],[12.1,15,42],[12.15,20,42],[12.2,15,45],[12.25,18,40],[12.3,8,38],[12.35,14,34],[12.4,8,30],[12.45,10,28],[12.5,0,22]];
const effCR = [[12.85,20,42],[12.88,30,70],[12.94,38,66],[13,32,72],[13.04,36,62],[13.08,25,55],[13.14,28,48],[13.2,25,45],[13.26,20,40],[13.32,12,35],[13.38,20,35],[13.45,20,36],[13.52,21,36],[13.6,18,38],[13.66,20,36],[13.72,20,40],[13.8,20,36],[13.86,18,38],[13.92,20,36],[14,20,40],[14.03,14,42],[14.1,20,36],[14.2,18,40],[14.27,20,36],[14.35,18,38],[14.42,20,35],[14.5,20,38],[14.57,20,35],[14.65,18,36],[14.72,20,35],[14.8,18,36],[14.87,20,35],[14.95,18,38],[15.02,20,35],[15.1,18,38],[15.17,20,35],[15.25,18,36],[15.32,18,35],[15.4,12,40],[15.48,5,35]];
const effDR = [[15.76,0,10],[15.85,30,70],[15.9,38,66],[15.95,35,72],[16,30,58],[16.05,25,52],[16.1,24,47],[16.15,18,45],[16.22,18,38],[16.3,12,35],[16.35,12,30],[16.4,0,30],[16.47,10,27],[16.55,10,28],[16.62,13,30],[16.7,12,32],[16.77,14,30],[16.89,15,32]];
const effDotsR = [[11.5,72],[11.3,22],[11.25,12],[11.28,6],[11.85,26],[15.75,10]];
const effZeroR = [[7.87,0],[16.89,0]];
const fwAR = [[7.87,1000,5000],[7.9,420,5000],[7.92,300,5000],[7.98,300,5000],[7.99,900,5000],[8,330,5000],[8.06,330,5000],[8.07,650,5000],[8.08,300,5000],[8.15,300,5000],[8.16,700,5000],[8.17,320,5000],[8.24,300,5000],[8.25,520,5000],[8.26,320,5000],[8.3,320,5000],[8.31,980,5000],[8.32,320,5000],[8.37,300,5000],[8.38,780,5000],[8.39,300,5000],[8.46,300,5000],[8.47,1050,5000],[8.48,320,5000],[8.55,300,5000],[8.56,720,5000],[8.57,320,5000],[8.62,320,5000],[8.63,880,5000],[8.64,300,5000],[8.72,300,5000],[8.73,700,5000],[8.74,320,5000],[8.8,320,5000],[8.81,1100,5000],[8.82,320,5000],[8.9,300,5000],[8.91,820,5000],[8.92,320,5000],[9,300,5000],[9.01,1150,5000],[9.02,320,5000],[9.08,320,5000],[9.09,780,5000],[9.1,300,5000],[9.18,300,5000],[9.19,950,5000],[9.2,320,5000],[9.26,300,5000],[9.27,1250,5000],[9.28,320,5000],[9.36,300,5000],[9.37,800,5000],[9.38,320,5000],[9.46,300,5000],[9.47,950,5000],[9.48,320,5000],[9.56,300,5000],[9.57,650,5000],[9.58,320,5000],[9.66,300,5000],[9.67,850,5000],[9.68,320,5000],[9.76,320,5000],[9.77,1000,5000],[9.78,320,5000],[9.86,300,5000],[9.87,1050,5000],[9.88,320,5000],[9.96,320,5000],[9.97,700,5000],[9.98,320,5000],[10.06,320,5000],[10.07,1250,5000],[10.08,340,5000],[10.16,320,5000],[10.17,950,5000],[10.18,340,5000],[10.26,320,5000],[10.27,1300,5000],[10.28,340,5000],[10.36,340,5000],[10.37,1150,5000],[10.38,340,5000],[10.46,340,5000],[10.47,1250,5000],[10.48,340,5000],[10.56,340,5000],[10.57,1150,5000],[10.58,340,5000],[10.66,340,5000],[10.67,1050,5000],[10.68,340,5000],[10.76,340,5000],[10.77,950,5000],[10.78,340,5000],[10.86,340,5000],[10.87,800,5000],[10.88,340,5000],[11.04,320,5000],[11.05,0,300]];
const fwBR = [[11.05,0,200],[11.25,0,30],[11.28,0,200],[11.34,0,0],[11.6,0,120],[11.68,0,1300],[11.72,0,1200],[11.8,200,1300],[11.85,200,3200],[11.88,900,3800],[11.92,600,2400],[11.93,400,5000],[11.98,600,5000],[12,400,5000],[12.03,500,1000],[12.04,150,5000],[12.12,150,5000],[12.14,1500,2900],[12.17,200,5000],[12.22,150,5000],[12.24,1400,3400],[12.27,250,5000],[12.3,220,5000],[12.33,1300,3500],[12.35,220,5000],[12.42,250,5000],[12.44,1500,3800],[12.47,250,5000],[12.55,250,5000],[12.58,250,4500],[12.6,200,5000],[12.6,0,100]];
const fwCR = [[12.62,0,100],[12.85,0,400],[12.88,350,900],[12.95,250,1100],[13,250,1100],[13.02,200,5000],[13.08,900,5000],[13.1,300,2800],[13.14,400,5000],[13.2,300,2000],[13.24,350,5000],[13.28,250,4200],[13.32,250,5000],[13.42,300,5000],[13.6,300,5000],[14,300,5000],[14.5,300,5000],[15,300,5000],[15.48,300,5000]];
const fwDR = [[15.48,200,500],[15.6,50,400],[15.78,100,440],[15.82,100,900],[15.88,200,1500],[15.9,300,3200],[15.93,300,5000],[15.96,700,5000],[15.98,400,3200],[16,300,5000],[16.02,500,5000],[16.05,300,2000],[16.08,300,5000],[16.13,300,5000],[16.15,1200,2400],[16.18,300,5000],[16.28,300,5000],[16.3,1200,2000],[16.34,300,5000],[16.45,300,5000],[16.89,300,5000]];
const ecldurR = [[7.87,18],[7.98,17],[8.03,1.4],[8.2,18.5],[8.28,20],[8.38,18],[8.45,20],[8.6,18.5],[8.72,20],[8.82,17.5],[8.9,18.5],[9,14.5],[9.05,20],[9.1,16],[9.16,18],[9.2,20],[9.5,16],[9.56,20],[9.75,18.5],[9.84,20],[9.92,18],[10.02,16],[10.1,20],[10.22,18.5],[10.25,15.5],[10.3,18.5],[10.38,17],[10.42,20],[10.55,17],[10.6,13],[10.64,20],[10.75,18.5],[10.9,20],[11,16.5],[11.02,19.5],[11.5,8.2],[11.6,4.6],[11.7,3.4],[11.71,5],[11.85,15.7],[12.1,20],[12.95,3],[13.03,10.5],[13.4,20],[15.13,17.5],[15.83,5],[15.94,9.5],[16.05,20],[16.37,15],[16.39,20],[16.58,19.5],[16.7,20]];
const srFwR = [[7.87,0],[16.89,0]];
const srBwR = [];
const topAR = [[7.87,3.2,4],[7.91,3.5,4],[7.95,3.35,4],[8.02,3.55,4],[8.1,3.2,4],[8.17,3.5,4],[8.25,3.35,4],[8.32,3.55,4],[8.4,3.25,4],[8.47,3.5,4],[8.55,3.4,4],[8.62,3.55,4],[8.7,3.2,4],[8.77,3.5,4],[8.85,3.35,4],[8.92,3.5,4],[9,3.2,4],[9.07,3.45,4],[9.15,3.3,4],[9.22,3.5,4],[9.3,3.05,4],[9.33,2.85,4],[9.4,3.2,4],[9.47,3.45,4],[9.55,3.1,4],[9.62,3.4,4],[9.7,3.2,4],[9.77,3.45,4],[9.85,3.15,4],[9.92,3.45,4],[10,3.25,4],[10.07,3.5,4],[10.15,3.15,4],[10.22,3.5,4],[10.3,3.3,4],[10.37,3.55,4],[10.45,3.2,4],[10.52,3.5,4],[10.6,3.25,4],[10.67,3.5,4],[10.75,3.2,4],[10.82,3.5,4],[10.9,3.3,4],[11.02,3.2,4]];
const topBR = [[12.37,1.7,1.9],[12.42,2,2.5],[12.47,2,2.95],[12.52,2,2.7],[12.56,2.4,3.2],[12.6,2.5,3.65]];
const topCR = [[13.05,.7,.95],[13.1,1,1.35],[13.14,1.15,1.3],[13.17,1.1,1.5],[13.25,1.35,1.85],[13.28,1.35,1.6],[13.32,1.35,2.1],[13.38,1.6,2.35],[13.42,1.7,2.45],[13.5,1.7,2.15],[13.6,1.65,2.25],[13.7,1.65,2.15],[13.8,1.65,2.3],[13.9,1.65,2.15],[14,1.65,2.3],[14.07,1.65,2.15],[14.15,1.65,2.4],[14.25,1.7,2.15],[14.32,1.7,2.25],[14.36,1.85,2.5],[14.45,1.9,2.35],[14.55,1.9,2.6],[14.65,1.9,2.4],[14.75,1.9,2.7],[14.85,1.9,2.4],[14.97,1.9,2.65],[15.03,2.15,2.95],[15.07,2.15,2.7],[15.12,2.15,3.1],[15.18,2.15,2.7],[15.25,2.15,2.95],[15.32,2.15,2.7],[15.38,2.15,2.9],[15.48,2.15,2.7]];
const topDR = [[15.94,1.95,2.4],[16,2.05,2.55],[16.07,2.3,2.85],[16.12,2.3,2.65],[16.17,2.3,2.95],[16.22,2.25,2.65],[16.27,2.2,2.85],[16.32,2.35,2.75],[16.37,2.4,3.15],[16.42,2.4,2.8],[16.47,2.4,2.95],[16.52,2.35,2.75],[16.57,2.35,3.05],[16.63,2.35,2.75],[16.7,2.35,2.9],[16.8,2.3,2.75],[16.89,2.25,3]];
const topZeroR = [[11.02,3.2],[11.02,0],[12.37,0],[12.37,1.7],[12.37,null],[12.6,3.6],[12.6,0],[13.05,0],[13.05,.7],[13.05,null],[15.48,2.4],[15.48,0],[15.94,0],[15.94,2]];
const cdcAvAR = [[7.87,135,240],[7.92,130,234],[7.97,132,244],[8.05,130,242],[8.12,134,234],[8.2,135,238],[8.3,130,240],[8.4,128,245],[8.47,132,236],[8.55,135,240],[8.62,132,236],[8.7,130,245],[8.77,134,238],[8.85,136,242],[8.92,132,236],[9,128,244],[9.07,130,238],[9.15,132,240],[9.22,134,242],[9.25,134,262],[9.28,132,244],[9.32,132,245],[9.42,130,238],[9.5,130,240],[9.57,132,240],[9.65,132,248],[9.72,130,240],[9.8,128,244],[9.9,130,240],[10,130,248],[10.07,132,240],[10.15,132,245],[10.22,132,240],[10.3,134,250],[10.37,132,244],[10.45,132,252],[10.52,132,246],[10.6,132,250],[10.67,132,244],[10.75,134,248],[10.82,134,244],[10.9,136,254],[10.96,136,248],[11.02,136,258]];
const cdcAR = [[7.87,18,88],[7.88,55,88],[7.89,18,90],[7.96,18,90],[7.97,55,92],[7.98,18,98],[8.05,18,102],[8.06,55,90],[8.07,18,92],[8.14,18,108],[8.15,55,95],[8.16,18,98],[8.26,18,100],[8.27,55,95],[8.28,18,106],[8.38,18,100],[8.39,55,92],[8.4,18,95],[8.5,18,112],[8.51,55,98],[8.52,18,100],[8.62,18,106],[8.63,55,95],[8.64,18,98],[8.74,18,110],[8.75,55,96],[8.76,18,96],[8.86,18,106],[8.87,55,98],[8.88,18,100],[8.98,18,120],[8.99,55,100],[9,18,98],[9.1,18,105],[9.11,55,96],[9.12,18,100],[9.22,18,112],[9.23,55,100],[9.24,18,100],[9.28,18,118],[9.29,55,100],[9.3,18,95],[9.4,18,95],[9.46,18,105],[9.47,55,92],[9.48,18,96],[9.58,18,108],[9.59,55,92],[9.6,18,92],[9.7,18,104],[9.71,55,92],[9.72,18,95],[9.82,18,106],[9.83,55,95],[9.84,18,100],[9.94,18,110],[9.95,55,95],[9.96,18,96],[10.06,18,104],[10.07,55,92],[10.08,18,95],[10.18,18,112],[10.19,55,95],[10.2,18,95],[10.3,18,106],[10.31,55,100],[10.32,18,100],[10.41,18,112],[10.42,55,100],[10.43,18,100],[10.48,18,100],[10.49,55,96],[10.5,18,96],[10.6,18,106],[10.61,55,92],[10.62,18,92],[10.72,18,112],[10.73,55,98],[10.74,18,98],[10.84,18,116],[10.85,55,100],[10.86,18,100],[10.92,18,104],[11.02,18,120]];
const cdcAvBR = [[11.88,70,85],[11.95,72,105],[12.02,65,112],[12.06,62,100],[12.1,62,125],[12.16,62,140],[12.22,60,118],[12.26,62,128],[12.3,65,140],[12.38,65,155],[12.44,65,130],[12.5,72,170],[12.56,72,175],[12.6,78,210]];
const cdcBR = [[11.88,8,55],[11.95,48,68],[12,8,60],[12.08,45,65],[12.12,8,60],[12.2,8,62],[12.27,48,60],[12.33,8,62],[12.42,8,65],[12.48,48,70],[12.52,8,80],[12.6,8,85]];
const cdcAvCR = [[13.05,60,85],[13.1,55,95],[13.17,55,105],[13.25,55,125],[13.32,70,140],[13.36,70,130],[13.4,70,155],[13.45,70,140],[13.5,70,148],[13.55,70,138],[13.6,70,150],[13.65,70,138],[13.7,70,145],[13.75,70,138],[13.8,70,152],[13.85,70,140],[13.9,70,148],[13.95,70,140],[14,70,150],[14.05,70,138],[14.1,72,142],[14.15,72,140],[14.2,72,155],[14.25,72,142],[14.3,72,158],[14.35,74,152],[14.4,75,168],[14.45,75,155],[14.5,75,172],[14.55,76,160],[14.6,78,168],[14.65,78,160],[14.7,78,172],[14.75,78,162],[14.8,78,175],[14.85,78,165],[14.9,78,172],[14.95,78,165],[15,80,178],[15.05,80,168],[15.1,82,190],[15.15,82,172],[15.2,82,180],[15.25,82,172],[15.3,82,185],[15.35,82,172],[15.4,82,178],[15.48,80,180]];
const cdcCR = [[13.05,10,45],[13.1,48,60],[13.14,10,60],[13.2,48,65],[13.25,10,62],[13.32,10,66],[13.4,10,68],[14,10,68],[14.35,10,72],[15,12,75],[15.3,12,78],[15.48,12,78]];
const cdcAvDR = [[15.92,60,115],[15.98,60,150],[16.03,90,175],[16.07,90,162],[16.1,90,192],[16.15,90,172],[16.2,88,178],[16.25,88,170],[16.3,90,185],[16.35,90,172],[16.4,90,190],[16.45,90,172],[16.5,90,182],[16.55,90,172],[16.6,90,188],[16.65,90,172],[16.7,90,180],[16.75,90,172],[16.8,92,185],[16.89,92,180]];
const cdcDR = [[15.92,12,78],[15.98,50,82],[16.02,12,72],[16.08,50,75],[16.13,12,80],[16.18,50,70],[16.24,12,78],[16.3,50,72],[16.34,12,80],[16.4,12,80],[16.6,12,78],[16.89,12,75]];
const cdcZeroR = [[11.02,0],[11.88,0],[11.88,null],[12.6,0],[13.05,0],[13.05,null],[15.48,0],[15.92,0]];
const diaAR = [[7.87,13,37],[7.92,13,34],[8,13,39],[8.06,13,35],[8.12,13.5,37],[8.18,13,36],[8.25,13,45],[8.28,13,37],[8.32,13,39],[8.38,13,36],[8.45,13,42],[8.52,13,37],[8.6,13,38],[8.66,13,37],[8.72,13,44],[8.78,13,37],[8.85,13,40],[8.92,13,37],[9,13,42],[9.06,13,38],[9.12,13,46],[9.17,12.5,38],[9.2,12.5,41],[9.25,12.5,50],[9.3,12.5,50],[9.33,12.5,38],[9.36,12.5,42],[9.43,12.5,38],[9.5,12.5,40],[9.58,12.5,37],[9.65,12.5,43],[9.72,12.5,37],[9.8,12.5,39],[9.87,12.5,37],[9.95,12.5,42],[10.02,13,38],[10.1,13,40],[10.17,13,38],[10.25,13,44],[10.29,13,39],[10.33,13,46],[10.38,13,38],[10.45,13,41],[10.52,13.5,38],[10.6,13.5,43],[10.67,13,38],[10.75,13,42],[10.82,13,38],[10.9,13,44],[10.96,13,39],[11.02,13,45]];
const diaBR = [[11.02,0,1.5],[11.2,0,1.5],[11.27,.5,3.5],[11.35,0,2],[11.65,.5,2],[11.75,1.5,4],[11.8,3,11],[11.85,3,18],[11.92,4,10],[12,7,15],[12.07,5,17],[12.15,5,24],[12.22,5,14],[12.3,6,20],[12.38,7,24],[12.45,6,20],[12.52,9,27],[12.6,10,32],[12.6,0,1]];
const diaCR = [[12.62,.5,1.5],[12.82,.5,2],[12.9,2,4],[12.95,3,18],[13.02,3,8],[13.08,5,17],[13.14,5,14],[13.22,6,15],[13.28,5,15],[13.3,7,28],[13.36,7,30],[13.42,7,23],[13.5,7,25],[13.57,7,23],[13.65,7,26],[13.72,7,23],[13.8,7,28],[13.87,7,24],[13.93,7,31],[14,7,24],[14.05,7,26],[14.12,7,23],[14.2,7,27],[14.27,7,23],[14.35,7.5,25],[14.42,7.5,24],[14.5,7.5,28],[14.57,8,25],[14.65,8,31],[14.72,8,26],[14.8,8,33],[14.87,8,26],[14.95,8,30],[15.02,8,27],[15.1,8.5,33],[15.17,8.5,27],[15.25,8.5,30],[15.32,8.5,26],[15.4,8.5,28],[15.48,7,22],[15.58,6.5,19],[15.65,6.5,18],[15.7,7,20],[15.78,7,18],[15.85,7.5,22],[15.92,8,32],[15.95,14,40],[16.02,8,26],[16.07,8,28],[16.12,8,34],[16.17,8,28],[16.22,9,29],[16.27,8,27],[16.32,9,35],[16.38,9,28],[16.45,9,30],[16.5,9,28],[16.55,9,34],[16.62,9,28],[16.7,9,30],[16.76,9,28],[16.82,9,35],[16.89,9,27]];
const vxdAR = [[7.87,0,370],[7.95,0,340],[8.05,0,400],[8.15,0,340],[8.25,0,370],[8.35,0,345],[8.45,0,410],[8.55,0,350],[8.7,0,380],[8.82,0,350],[8.95,0,430],[9.08,0,360],[9.2,0,420],[9.3,0,500],[9.38,0,380],[9.45,0,400],[9.58,0,360],[9.7,0,430],[9.82,0,360],[9.95,0,390],[10.08,0,360],[10.2,0,420],[10.32,0,380],[10.4,0,500],[10.5,0,390],[10.6,0,420],[10.7,0,370],[10.8,0,400],[10.9,0,370],[11.02,0,430]];
const vxdBR = [[11.02,0,60],[11.22,0,50],[11.25,0,220],[11.3,0,60],[11.5,0,60],[11.52,0,260],[11.56,0,100],[11.75,0,200],[11.9,0,250],[12.05,0,280],[12.2,0,400],[12.3,0,300],[12.45,0,380],[12.6,0,480]];
const vxdCR = [[12.62,0,50],[12.82,0,50],[12.85,0,420],[12.9,0,150],[13.02,0,320],[13.05,0,180],[13.2,0,280],[13.4,0,300],[13.6,0,340],[13.8,0,350],[14,0,300],[14.3,0,320],[14.55,0,360],[14.8,0,350],[15,0,310],[15.2,0,300],[15.35,0,350],[15.47,0,380],[15.5,0,60]];
const vxdDR = [[15.5,0,50],[15.72,0,60],[15.74,0,460],[15.8,0,100],[15.87,0,250],[15.92,0,150],[16,0,350],[16.1,0,320],[16.2,0,380],[16.3,0,340],[16.4,0,450],[16.5,0,340],[16.6,0,350],[16.75,0,370],[16.89,0,400]];
const vxdSpikesR = [[11.02,0],[11.02,4800],[11.02,0],[11.02,null],[12.6,0],[12.6,3400],[12.6,0],[12.6,null]];
const vxdSpike3R = [[15.48,0],[15.48,2000],[15.48,0]];

// ---------- helpers for datasets ----------
const line = (pts, color, width = 1.5, stepped = false, clip) => ({
  data: pts.map(p => ({ x: p[0], y: p[1] })), borderColor: color, borderWidth: width,
  pointRadius: 0, fill: false, stepped, tension: 0,
  ...(clip === undefined ? {} : { clip })
});
const dots = (pts, color, r = 1.4) => ({
  data: pts.map(p => ({ x: p[0], y: p[1] })), showLine: false, pointRadius: r,
  pointBackgroundColor: color, pointBorderWidth: 0
});
// band = high edge filled down to low edge
const band = (rows, color) => [
  { data: rows.map(r => ({ x: r[0], y: r[2] })), borderColor: color, backgroundColor: color, borderWidth: 1, pointRadius: 0, fill: '+1', tension: 0 },
  { data: rows.map(r => ({ x: r[0], y: r[1] })), borderColor: color, borderWidth: 1, pointRadius: 0, fill: false, tension: 0 }
];

const ORANGE = '#e8a712', RED = '#ff0000', BLUE = '#0000ff', PINK = '#ff1493', SKY = '#1e88e5';
const ROYAL = '#4169e1', GREEN = '#00cd00', PURPLE = '#a020f0', CYAN = '#00b2e8', SEA = '#008b45';
const TOMATO = '#ff6347', TOPC = '#4c7dff', DARK = '#008b00', VIOLET = '#ee82ee';

const mono = 'DejaVu Sans Mono';

// ---------- panels ----------
const columnL = { left: 102, right: 735, xMin: 7.927, xMax: 16.943, labelGap: 27, dateGap: 51, dateX: 53 };
const columnR = { left: 1003, right: 1637, xMin: 7.865, xMax: 16.889, labelGap: 26, dateGap: 49, dateX: 958 };

const panelsL = [
  { top: 177, bottom: 233, min: 0, max: 44500, ticks: [0,10000,20000,30000,40000], title: [['Luminosity', 52, 204]],
    sets: [line(lumL, ORANGE, 2)] },
  { top: 233, bottom: 289, min: 0, max: 1720, ticks: [0,500,1000,1500], title: [['I[mA]', 59, 260]],
    sets: [line(lerL, RED, 2, true), line(herL, BLUE, 1.6, true)] },
  { top: 289, bottom: 345, min: 0, max: 13.5, ticks: [0,5,10], title: [['Rep.', 60, 318], ['Rate[Hz]', 75, 318]],
    sets: [line(repL, PINK, 1.5, true)] },
  { top: 345, bottom: 401, min: -0.1, max: 3.47, ticks: [0,1,2,3], title: [['Q[nC]', 83, 373]],
    sets: [...band(qBlueL, ROYAL), ...band(qGreenL, GREEN), line(qLowL, GREEN, 3)] },
  { top: 401, bottom: 457, min: -0.1, max: 4.7, ticks: [0,1,2,3,4], title: [['[mA/s]', 83, 429]],
    sets: [...band(rateMainL, PURPLE), ...band(rateUpL, PURPLE), ...band(rateUp2L, PURPLE), ...band(rateUp3L, PURPLE), ...band(rateMain2L, PURPLE), line(rateZeroL, PURPLE, 3), dots(rateDotsL, PURPLE, 1.5)] },
  { top: 457, bottom: 517, min: -5, max: 110, ticks: [0,20,40,60,80,100], title: [['[%]', 66, 485]],
    sets: [...band(effMainL, CYAN), ...band(effUp1L, CYAN), ...band(effUp2L, CYAN), ...band(effUp3L, CYAN), ...band(effMain2L, CYAN), dots(effSparseL, CYAN, 1.5), line(effZeroL, CYAN, 3)] },
  { top: 517, bottom: 597, min: 0, max: 15000, ticks: [0,5000,10000,15000], title: [['ECL_BW', 44, 557, 13, true]],
    sets: [...band(eclBwAL, SEA), ...band(eclBwBL, SEA), ...band(eclBwCL, SEA)] },
  { top: 597, bottom: 677, min: 0, max: 30, ticks: [0,5,10,15,20,25,30], title: [['[ms]', 71, 637, 12, true]],
    sets: [line(ecldurL, TOMATO, 1.3, true)] },
  { top: 677, bottom: 758, min: 0, max: 4, ticks: [0,1,2,3,4], title: [['[Hz]', 82, 718, 10.5]], exp: ['6', 37, 696],
    sets: [...band(topAL, TOPC), ...band(topBL, TOPC), ...band(topCL, TOPC), ...band(topDL, TOPC), line(topZeroL, TOPC, 1.3)] },
  { top: 758, bottom: 838, min: 0, max: 300, ticks: [0,50,100,150,200,250,300], title: [['[uA]', 62, 798, 12, true]],
    sets: [...band(cdcAL, GREEN), ...band(cdcAvAL, DARK), ...band(cdcBL, GREEN), ...band(cdcAvBL, DARK), ...band(cdcCL, GREEN), ...band(cdcAvCL, DARK), ...band(cdcDL, GREEN), ...band(cdcAvDL, DARK), line(cdcZeroL, DARK, 1.5)] },
  { top: 838, bottom: 918, min: 0, max: 50, ticks: [0,10,20,30,40,50], title: [['[mRad/s]', 71, 878, 13.5, true]],
    sets: [...band(diaAL, VIOLET), ...band(diaBL, VIOLET), ...band(diaCL, VIOLET)] },
  { top: 918, bottom: 999, min: 0, max: 450, ticks: [0,100,200,300,400], title: [['VXD', 66, 958, 13, true]], timeAxis: true,
    sets: [...band(vxdRedAL, RED), ...band(vxdRedBL, RED), ...band(vxdRedCL, RED), ...band(vxdBlueAL, BLUE), ...band(vxdBlueBL, BLUE), ...band(vxdBlueCL, BLUE)] }
];

const panelsR = [
  { top: 54, bottom: 113, min: 0, max: 44900, ticks: [0,10000,20000,30000,40000], title: [['Luminosity', 953, 82]],
    sets: [line(lumR, ORANGE, 2)] },
  { top: 113, bottom: 172, min: 0, max: 1750, ticks: [0,500,1000,1500], title: [['I[mA]', 961, 142]],
    sets: [line(lerR, RED, 2, true), line(herR, BLUE, 1.6, true)] },
  { top: 172, bottom: 232, min: 0, max: 13.3, ticks: [0,5,10], title: [['Rep.', 962, 203], ['Rate[Hz]', 976, 203]],
    sets: [line(repR, SKY, 1.5, true)] },
  { top: 232, bottom: 291, min: -0.1, max: 2, ticks: [0,0.5,1,1.5], title: [['Q[nC]', 969, 261]],
    sets: [...band(qBlueR, ROYAL), ...band(qBlue2R, ROYAL), ...band(qBlue3R, ROYAL), ...band(qBlue4R, ROYAL), line(qGreenR, GREEN, 3), dots(qDotsR, ROYAL, 1.3)] },
  { top: 291, bottom: 351, min: -0.05, max: 1.65, ticks: [0,0.5,1,1.5], title: [['[mA/s]', 969, 321]],
    sets: [...band(rateAR, PURPLE), ...band(rateBR, PURPLE), ...band(rateCR, PURPLE), ...band(rateDR, PURPLE)] },
  { top: 351, bottom: 413, min: -5, max: 110, ticks: [0,20,40,60,80,100], title: [['[%]', 968, 379]],
    sets: [...band(effAR, CYAN), ...band(effBR, CYAN), ...band(effCR, CYAN), ...band(effDR, CYAN), dots(effDotsR, CYAN, 1.5), line(effZeroR, CYAN, 3)] },
  { top: 413, bottom: 499, min: 0, max: 5000, ticks: [0,1000,2000,3000,4000,5000], title: [['ECL_FW', 955, 457, 14, true]],
    sets: [...band(fwAR, SEA), ...band(fwBR, SEA), ...band(fwCR, SEA), ...band(fwDR, SEA)] },
  { top: 499, bottom: 584, min: 0, max: 20, ticks: [0,5,10,15,20], title: [['[ms]', 972, 541, 12.5, true]],
    sets: [line(ecldurR, TOMATO, 1.3, true)] },
  { top: 584, bottom: 669, min: 0, max: 5, ticks: [0,1,2,3,4,5], title: [['Photon', 971, 627], ['Rate', 985, 627]], exp: ['5', 939, 603],
    sets: [line(srBwR, RED, 1.5), line(srFwR, ORANGE, 1.5, false, false)] },
  { top: 669, bottom: 754, min: 0, max: 4, ticks: [0,1,2,3,4], title: [['[Hz]', 984, 712, 10.5]], exp: ['6', 939, 688],
    sets: [...band(topAR, TOPC), ...band(topBR, TOPC), ...band(topCR, TOPC), ...band(topDR, TOPC), line(topZeroR, TOPC, 1.3)] },
  { top: 754, bottom: 840, min: 0, max: 300, ticks: [0,50,100,150,200,250,300], title: [['[uA]', 964, 797, 12.5, true]],
    sets: [...band(cdcAR, GREEN), ...band(cdcAvAR, DARK), ...band(cdcBR, GREEN), ...band(cdcAvBR, DARK), ...band(cdcCR, GREEN), ...band(cdcAvCR, DARK), ...band(cdcDR, GREEN), ...band(cdcAvDR, DARK), line(cdcZeroR, DARK, 1.5)] },
  { top: 840, bottom: 925, min: 0, max: 50, ticks: [0,10,20,30,40,50], title: [['[mRad/s]', 972, 882, 14.5, true]],
    sets: [...band(diaAR, VIOLET), ...band(diaBR, VIOLET), ...band(diaCR, VIOLET)] },
  { top: 925, bottom: 1011, min: 0, max: 5000, ticks: [0,1000,2000,3000,4000], title: [['VXD', 960, 966]], timeAxis: true,
    sets: [...band(vxdAR, BLUE), ...band(vxdBR, BLUE), ...band(vxdCR, BLUE), ...band(vxdDR, BLUE), line(vxdSpikesR, '#333', 1), line(vxdSpike3R, BLUE, 1)] }
];

// ROOT style frame, inward ticks, rotated titles, hour labels
const rootFrame = {
  id: 'rootFrame',
  afterDatasetsDraw(chart, args, o) {
    const { ctx, chartArea: a, scales: { x, y } } = chart;
    ctx.save();
    ctx.strokeStyle = '#000';
    ctx.lineWidth = 1;
    ctx.beginPath();
    const h = a.bottom - a.top;
    for (const t of x.ticks) {
      const px = Math.round(x.getPixelForValue(t.value)) + .5;
      const major = Math.abs(t.value - Math.round(t.value)) < .01;
      ctx.moveTo(px, a.bottom);
      ctx.lineTo(px, a.bottom - (major ? h * .2 : h * .06));
    }
    const step = y.ticks[1].value - y.ticks[0].value;
    const first = Math.ceil(y.min / (step / 5));
    for (let i = first; i * step / 5 <= y.max + 1e-9; i++) {
      const py = Math.round(y.getPixelForValue(i * step / 5)) + .5;
      ctx.moveTo(a.left, py);
      ctx.lineTo(a.left + (i % 5 === 0 ? 22 : 7), py);
    }
    ctx.stroke();
    ctx.lineWidth = 1.6;
    ctx.strokeRect(a.left, a.top, a.right - a.left, a.bottom - a.top);
    ctx.fillStyle = '#000';
    const ox = o.canvasLeft, oy = o.canvasTop;
    for (const [text, tx, ty, size, bold] of o.title) {
      ctx.save();
      ctx.translate(tx - ox, ty - oy);
      ctx.rotate(-Math.PI / 2);
      ctx.font = `${bold ? 'bold ' : ''}${size || 12}px "${mono}"`;
      ctx.textAlign = 'center';
      ctx.textBaseline = 'middle';
      ctx.fillText(text, 0, 0);
      ctx.restore();
    }
    if (o.exp) {
      const ex = o.exp[1] - ox, ey = o.exp[2] - oy;
      ctx.font = `15px "${mono}"`;
      ctx.textAlign = 'left';
      ctx.textBaseline = 'alphabetic';
      ctx.fillText('x10', ex, ey);
      ctx.font = `14px "${mono}"`;
      ctx.fillText(o.exp[0], ex + 27, ey - 8);
    }
    if (o.timeAxis) {
      const base = a.bottom + o.labelGap;
      const big = `20px "${mono}"`, small = `13.5px "${mono}"`;
      ctx.textAlign = 'left';
      ctx.textBaseline = 'alphabetic';
      let cur = x.getPixelForValue(8) - 18;
      for (const [d, u] of [['8', 'h'], ['0', 'm'], ['0', 's']]) {
        ctx.font = big; ctx.fillText(d, cur, base); cur += ctx.measureText(d).width;
        ctx.font = small; ctx.fillText(u, cur, base - 11); cur += ctx.measureText(u).width;
      }
      for (const hr of hourLabels) {
        ctx.font = big;
        const w = ctx.measureText(String(hr)).width;
        ctx.font = small;
        const uw = ctx.measureText('h').width;
        const left = x.getPixelForValue(hr) - (w + uw) / 2;
        ctx.font = big; ctx.fillText(String(hr), left, base);
        ctx.font = small; ctx.fillText('h', left + w, base - 11);
      }
      ctx.font = big;
      ctx.fillText(dateLabel, o.dateX - ox, a.bottom + o.dateGap);
    }
    ctx.restore();
  }
};

const xTicks = Array.from({ length: 27 }, (_, i) => 8 + i / 3);
const AXIS_W = 70, PAD = 12, FOOT = 58;

function drawPanel(col, p) {
  const foot = p.timeAxis ? FOOT : PAD;
  const cv = document.createElement('canvas');
  const cLeft = col.left - AXIS_W, cTop = p.top - PAD;
  const cW = col.right - col.left + AXIS_W + 6, cH = p.bottom - p.top + PAD + foot;
  cv.width = cW; cv.height = cH;
  cv.style.cssText = `left:${cLeft}px;top:${cTop}px;width:${cW}px;height:${cH}px`;
  document.body.appendChild(cv);
  new Chart(cv, {
    type: 'line',
    data: { datasets: p.sets },
    plugins: [rootFrame],
    options: {
      responsive: false, animation: false, events: [], devicePixelRatio: 1,
      layout: { padding: { left: 0, right: 6, top: PAD, bottom: foot } },
      plugins: {
        legend: { display: false }, tooltip: { enabled: false },
        rootFrame: { title: p.title, exp: p.exp, timeAxis: p.timeAxis, canvasLeft: cLeft, canvasTop: cTop,
          labelGap: col.labelGap, dateGap: col.dateGap, dateX: col.dateX }
      },
      scales: {
        x: {
          type: 'linear', min: col.xMin, max: col.xMax,
          afterBuildTicks: s => { s.ticks = xTicks.map(v => ({ value: v })); },
          afterFit: s => { s.height = 0; },
          ticks: { display: false, autoSkip: false },
          border: { display: false, dash: [4, 3] },
          grid: {
            drawTicks: false, lineWidth: 1,
            color: c => (c.tick && Math.abs(c.tick.value - Math.round(c.tick.value)) < .01) ? '#8a8a8a' : 'rgba(0,0,0,0)'
          }
        },
        y: {
          type: 'linear', min: p.min, max: p.max,
          afterBuildTicks: s => { s.ticks = p.ticks.map(v => ({ value: v })); },
          afterFit: s => { s.width = AXIS_W; },
          ticks: { autoSkip: false, padding: 1, color: '#000', font: { family: mono, size: 15 }, callback: v => String(v) },
          border: { display: false, dash: [2, 3] },
          grid: { drawTicks: false, color: '#555', lineWidth: 1 }
        }
      }
    }
  });
}

panelsL.forEach(p => drawPanel(columnL, p));
panelsR.forEach(p => drawPanel(columnR, p));

// ---------- legends ----------
// box [x0,y0,x1,y1], sample [x0,x1], textX, rows [label,y], keys [colour,y,kind]
const legends = [
  { box:[796,249,881,294], sample:[802,843], textX:848, rows:[['LER',262],['HER',280]], keys:[[RED,262],[BLUE,280]] },
  { box:[781,301,881,339], sample:[788,828], textX:832, big:true, rows:[['LER',319]], keys:[[PINK,319]] },
  { box:[734,361,881,407], sample:[742], textX:767, rows:[['QMD11P_1(nC)',375],['QMD11P_2(nC)',393]], keys:[[ROYAL,375,'dot'],[GREEN,393,'dot']] },
  { box:[770,417,881,445], sample:[778], textX:803, rows:[['Inj.Rate',431]], keys:[[PURPLE,431,'dot']] },
  { box:[725,473,881,538], sample:[733], textX:758, rows:[['Inj.Eff(BCM1)',487],['Inj.Eff(BCM2)',505],['Inj.Eff',523]], keys:[['#000',487,'dot'],['#999',505,'dot']] },
  { box:[769,533,881,562], sample:[775,816], textX:821, rows:[['ECL_BW',547]], keys:[[SEA,547]] },
  { box:[751,605,881,651], sample:[758,798], textX:802, rows:[['ECL BG',618],['Duration',636]], keys:[[TOMATO,627]] },
  { box:[751,694,881,722], sample:[758,798], textX:802, rows:[['TOP [Hz]',707]], keys:[[TOPC,707]] },
  { box:[769,775,881,821], sample:[775,816], textX:821, rows:[['CDC',788],['CDC_av',806]], keys:[[GREEN,788],[DARK,806]] },
  { box:[760,855,881,883], sample:[767,807], textX:812, rows:[['Diamond',868]], keys:[[VIOLET,868]] },
  { box:[742,935,881,981], sample:[748,789], textX:794, rows:[['VXD_FW225',948],['VXD_FW135',966]], keys:[[BLUE,948],[RED,966]] },

  { box:[1698,128,1783,175], sample:[1704,1745], textX:1749, rows:[['LER',142],['HER',160]], keys:[[RED,142],[BLUE,160]] },
  { box:[1683,184,1783,223], sample:[1690,1730], textX:1733, big:true, rows:[['HER',202]], keys:[[SKY,202]] },
  { box:[1645,247,1783,293], sample:[1653], textX:1677, rows:[['QMD8E_1(nC)',261],['QMD8E_2(nC)',279]], keys:[[ROYAL,261,'dot'],[GREEN,279,'dot']] },
  { box:[1672,308,1783,336], sample:[1680], textX:1705, rows:[['Inj.Rate',321]], keys:[[PURPLE,321,'dot']] },
  { box:[1627,366,1783,431], sample:[1635], textX:1660, rows:[['Inj.Eff(BCM1)',381],['Inj.Eff(BCM2)',398],['Inj.Eff',416]], keys:[['#000',381,'dot'],['#999',398,'dot']] },
  { box:[1671,431,1783,459], sample:[1678,1718], textX:1723, rows:[['ECL_FW',445]], keys:[[SEA,445]] },
  { box:[1653,507,1783,553], sample:[1660,1700], textX:1705, rows:[['ECL BG',520],['Duration',539]], keys:[[TOMATO,529]] },
  { box:[1680,601,1783,647], sample:[1686,1727], textX:1731, rows:[['SR_FW',614],['SR_BW',632]], keys:[[ORANGE,614],[RED,632]] },
  { box:[1653,686,1783,713], sample:[1660,1700], textX:1705, rows:[['TOP [Hz]',699]], keys:[[TOPC,699]] },
  { box:[1671,771,1783,816], sample:[1678,1718], textX:1723, rows:[['CDC',784],['CDC_av',802]], keys:[[GREEN,784],[DARK,802]] },
  { box:[1662,856,1783,884], sample:[1668,1709], textX:1713, rows:[['Diamond',870]], keys:[[VIOLET,870]] },
  { box:[1644,942,1783,987], sample:[1650,1691], textX:1695, rows:[['VXD_BW180',955],['VXD_BW270',973]], keys:[[RED,955],[BLUE,973]] }
];

legends.forEach(l => {
  const [x0, y0, x1, y1] = l.box;
  const d = document.createElement('div');
  d.className = 'legend';
  d.style.cssText = `left:${x0 - 1}px;top:${y0 - 1}px;width:${x1 - x0}px;height:${y1 - y0}px`;
  l.keys.forEach(([color, y, kind]) => {
    const k = document.createElement('i');
    if (kind === 'dot') {
      k.style.cssText = `left:${l.sample[0] - x0 - 3}px;top:${y - y0 - 3}px;width:6px;height:6px;border-radius:50%;background:${color}`;
    } else {
      k.style.cssText = `left:${l.sample[0] - x0}px;top:${y - y0}px;width:${l.sample[1] - l.sample[0]}px;height:1px;background:${color}`;
    }
    d.appendChild(k);
  });
  l.rows.forEach(([label, y]) => {
    const s = document.createElement('span');
    s.textContent = label;
    s.style.left = (l.textX - x0) + 'px';
    s.style.top = (y - y0 - 1) + 'px';
    if (l.big) s.style.fontSize = '24px';
    d.appendChild(s);
  });
  document.body.appendChild(d);
});
</script>
</body>
</html>
